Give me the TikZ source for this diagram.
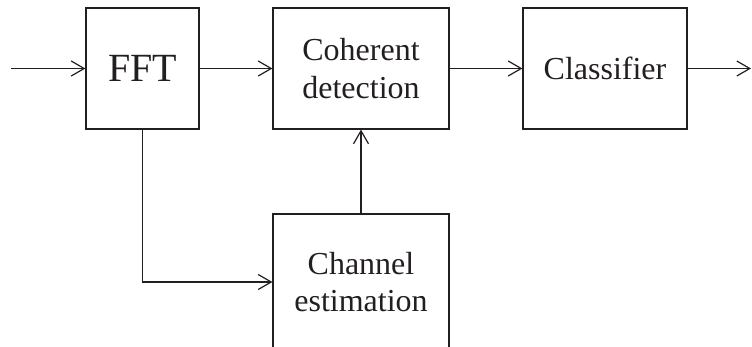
\documentclass[tikz,border=0pt]{standalone}
\usepackage{fontspec}
\setmainfont{Liberation Serif}
\usetikzlibrary{arrows.meta}
\definecolor{ink}{HTML}{231F20}
\begin{document}
\begin{tikzpicture}[x=1pt,y=-1pt,
  blk/.style={draw=ink,line width=1.2pt,text=ink,inner sep=0pt,align=center,
    font=\fontsize{32}{37.5}\selectfont},
  conn/.style={draw=ink,line width=1.2pt,-{Straight Barb[length=13pt,width=15pt,line width=1.2pt]}}]
\useasboundingbox (0,0) rectangle (752,346);
\clip (0,0) rectangle (752,346);
% processing blocks
\node[blk,minimum width=113pt,minimum height=121pt,font=\fontsize{40}{46}\selectfont] (fft) at (142.5,68.5) {FFT};
\node[blk,minimum width=176pt,minimum height=121pt] (coh) at (361,68.5) {Coherent\\detection};
\node[blk,minimum width=164pt,minimum height=121pt] (cls) at (605,68.5) {Classifier};
\node[blk,minimum width=176pt,minimum height=136pt] (chan) at (361,282) {Channel\\estimation};
% signal flow
\coordinate (in) at (11,68.5);
\coordinate (out) at (751,68.5);
\draw[conn] (in) -- (fft.west);
\draw[conn] (fft.east) -- (coh.west);
\draw[conn] (coh.east) -- (cls.west);
\draw[conn] (cls.east) -- (out);
\draw[conn] (fft.south) |- (chan.west);
\draw[conn] (chan.north) -- (coh.south);
\end{tikzpicture}
\end{document}
